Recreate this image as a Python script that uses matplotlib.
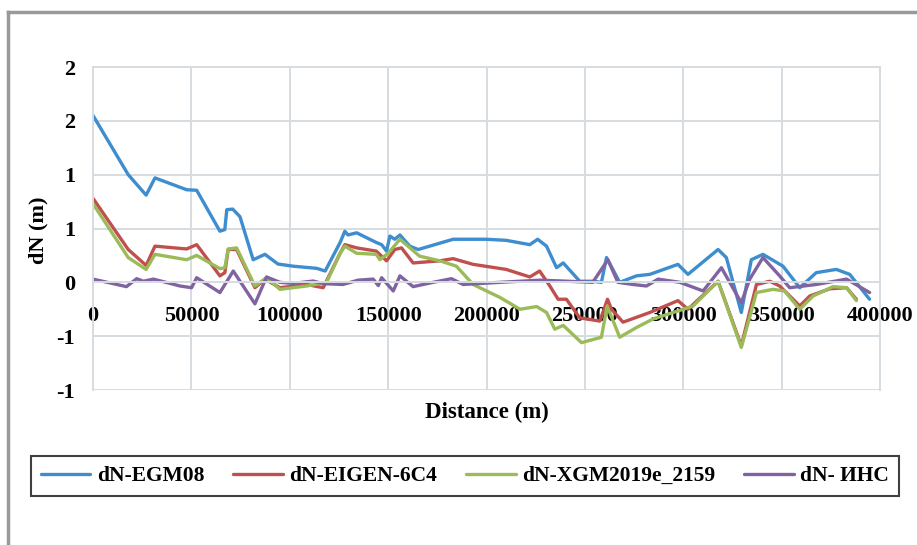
import matplotlib.pyplot as plt
from matplotlib.lines import Line2D

# distances (m) and geoid differences dN (m)
egm08_x = [0, 17900, 27000, 31500, 47600, 52700, 64500, 67000, 68000, 71000, 74700, 81400, 87400,
           94000, 101700, 113700, 118000, 125600, 128000, 129600, 134000, 144000, 146700, 149200,
           150900, 153400, 156000, 161000, 165300, 183000, 200000, 210000, 222000, 226000, 230500,
           235600, 239000, 247400, 254000, 258400, 261000, 267700, 276200, 283000, 297300, 302400,
           317700, 321900, 329500, 334600, 340500, 350700, 359200, 367600, 377800, 384600, 394700]
egm08_y = [1.55, 1.0, 0.81, 0.97, 0.86, 0.855, 0.475, 0.49, 0.675, 0.68, 0.61, 0.21, 0.26,
           0.17, 0.15, 0.13, 0.105, 0.37, 0.475, 0.44, 0.46, 0.37, 0.35, 0.29,
           0.43, 0.40, 0.44, 0.336, 0.305, 0.40, 0.40, 0.39, 0.35, 0.40, 0.336,
           0.136, 0.18, 0.01, 0.01, 0.0, 0.23, 0.0, 0.06, 0.074, 0.167, 0.074,
           0.305, 0.23, -0.28, 0.21, 0.26, 0.15, -0.05, 0.09, 0.12, 0.074, -0.157]

eigen_x = [0, 17900, 27000, 31500, 47600, 52700, 64500, 67000, 68700, 73000, 82300, 87400, 95000,
           108600, 117000, 125600, 128000, 134000, 144000, 149200, 153400, 156800, 162700, 176300,
           183000, 193200, 210000, 222000, 227000, 232200, 236400, 240600, 247400, 257600, 261500,
           263500, 269400, 283000, 297300, 302400, 317700, 329500, 337200, 344000, 349000, 355800,
           359200, 364300, 374500, 383000, 388000]
eigen_y = [0.78, 0.305, 0.157, 0.336, 0.31, 0.35, 0.06, 0.09, 0.305, 0.305, -0.05, 0.03, -0.05,
           -0.02, -0.05, 0.27, 0.35, 0.32, 0.29, 0.2, 0.305, 0.32, 0.18, 0.2,
           0.22, 0.167, 0.12, 0.05, 0.105, -0.034, -0.157, -0.157, -0.33, -0.36, -0.157,
           -0.25, -0.37, -0.28, -0.17, -0.25, 0.01, -0.59, -0.02, 0.01, -0.034, -0.157,
           -0.22, -0.127, -0.06, -0.05, -0.157]

xgm_x = [0, 17900, 27000, 31500, 47600, 52700, 64500, 67000, 68700, 73000, 82300, 88200, 95000,
         108600, 118700, 125600, 128000, 134000, 144000, 145800, 150000, 156000, 166000, 176300,
         184700, 193200, 206800, 217000, 225500, 230500, 234700, 239000, 248300, 258400, 261300,
         267700, 276200, 284700, 305000, 317700, 329500, 337200, 345600, 351500, 359200, 366000,
         376100, 383000, 388000]
xgm_y = [0.73, 0.23, 0.12, 0.26, 0.21, 0.25, 0.127, 0.136, 0.31, 0.32, -0.034, 0.043, -0.065,
         -0.034, 0.0, 0.27, 0.336, 0.27, 0.26, 0.21, 0.27, 0.40, 0.243, 0.2,
         0.15, -0.02, -0.14, -0.25, -0.225, -0.28, -0.435, -0.40, -0.56, -0.51, -0.22,
         -0.51, -0.42, -0.34, -0.22, 0.01, -0.605, -0.095, -0.065, -0.08, -0.25, -0.127,
         -0.04, -0.05, -0.17]

ihc_x = [0, 17000, 22200, 25600, 30700, 44200, 50100, 52700, 64500, 71300, 82300, 88200, 95000,
         101700, 111900, 117000, 127000, 134700, 142400, 145000, 146700, 152600, 156000, 162700,
         172900, 182200, 188100, 206800, 227000, 239000, 254000, 261700, 266800, 274500, 281300,
         287200, 298300, 310100, 319400, 329500, 333800, 340500, 349000, 354100, 367600, 383000,
         394700]
ihc_y = [0.03, -0.04, 0.034, 0.01, 0.03, -0.034, -0.05, 0.043, -0.095, 0.105, -0.2, 0.05, 0.0,
         -0.01, 0.012, -0.012, -0.02, 0.02, 0.03, -0.03, 0.043, -0.08, 0.06, -0.04,
         0.0, 0.034, -0.02, 0.0, 0.02, 0.012, 0.0, 0.21, 0.0, -0.02, -0.034,
         0.03, 0.0, -0.08, 0.136, -0.19, 0.03, 0.23, 0.06, -0.05, -0.02, 0.03,
         -0.095]

series_names = ['dN-EGM08', 'dN-EIGEN-6C4', 'dN-XGM2019e_2159', 'dN- ИНС']
x_ticks = [0, 50000, 100000, 150000, 200000, 250000, 300000, 350000, 400000]
y_ticks = [-1.0, -0.5, 0.0, 0.5, 1.0, 1.5, 2.0]
y_tick_labels = ['-1', '-1', '0', '1', '1', '2', '2']

plt.rcParams['font.family'] = ['Liberation Serif', 'DejaVu Serif']
plt.rcParams['font.weight'] = 'bold'

fig = plt.figure(figsize=(9.17, 5.45), dpi=100)
ax = fig.add_axes([93 / 917, 1 - 390 / 545, 787 / 917, 323 / 545])

colors = ['#3d8dcf', '#c0504d', '#9bbb59', '#8064a2']
for (xs, ys), name, c in zip([(egm08_x, egm08_y), (eigen_x, eigen_y), (xgm_x, xgm_y), (ihc_x, ihc_y)],
                              series_names, colors):
    ax.plot(xs, ys, color=c, lw=2.4, label=name, solid_joinstyle='round', solid_capstyle='round')

ax.set_xlim(0, 400000)
ax.set_ylim(-1, 2)
ax.set_xticks(x_ticks)
ax.set_xticklabels([str(t) for t in x_ticks])
ax.set_yticks(y_ticks)
ax.set_yticklabels(y_tick_labels)
ax.grid(True, color='#d6dce1', lw=1.4)
ax.set_axisbelow(True)

for side in ['top', 'right', 'left']:
    ax.spines[side].set_color('#d6dce1')
    ax.spines[side].set_linewidth(1.4)
# excel draws the category labels along the zero line
ax.spines['bottom'].set_position(('data', 0))
ax.spines['bottom'].set_color('#d6dce1')
ax.spines['bottom'].set_linewidth(1.4)

ax.tick_params(axis='x', length=0, pad=17, labelsize=16)
ax.tick_params(axis='y', length=0, pad=13, labelsize=16)

fig.text(38 / 917, 1 - 230 / 545, 'dN (m)', rotation=90, ha='center', va='center',
         fontsize=16, fontweight='bold')
fig.text(487 / 917, 1 - 412 / 545, 'Distance (m)', ha='center', va='center',
         fontsize=16.5, fontweight='bold')

leg = fig.legend(loc='center', bbox_to_anchor=(465 / 917, 1 - 476 / 545), ncol=4,
                 fontsize=15.5, handlelength=2.3, handletextpad=0.3, columnspacing=1.35,
                 borderpad=0.45, borderaxespad=0, fancybox=False, framealpha=1)
leg.get_frame().set_edgecolor('#404040')
leg.get_frame().set_linewidth(1.5)
for t in leg.get_texts():
    t.set_fontweight('bold')

# gray outer frame of the figure panel
fig.add_artist(Line2D([8 / 917, 1], [1 - 11.5 / 545, 1 - 11.5 / 545], transform=fig.transFigure,
                      color='#999999', lw=2.5))
fig.add_artist(Line2D([8 / 917, 8 / 917], [0, 1 - 11.5 / 545], transform=fig.transFigure,
                      color='#999999', lw=2.5))

fig.savefig('out.png', dpi=100)
